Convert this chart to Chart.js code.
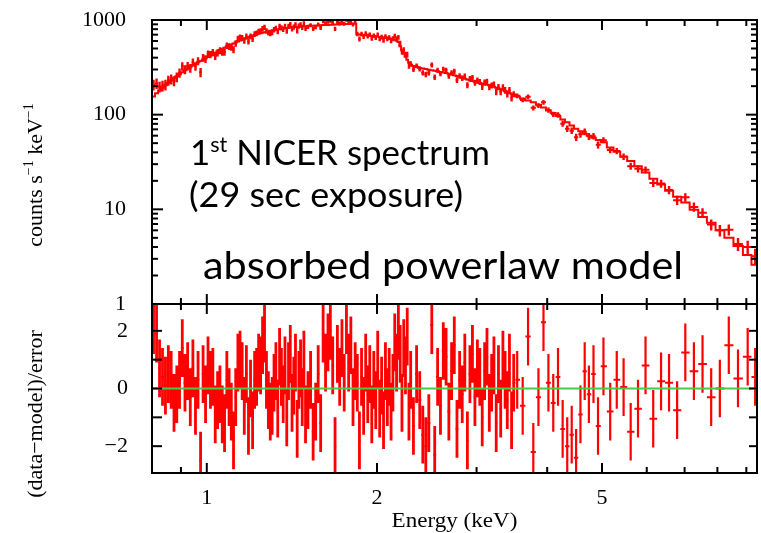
<!DOCTYPE html>
<html>
<head>
<meta charset="utf-8">
<script src="https://cdn.jsdelivr.net/npm/chart.js@4.4.1/dist/chart.umd.min.js"></script>
<style>
html,body{margin:0;padding:0;background:#ffffff;overflow:hidden;}
#box{position:relative;width:761px;height:533px;}
canvas{display:block;}
</style>
</head>
<body>
<div id="box"><canvas id="chart" width="761" height="533"></canvas></div>
<script>
// ---- data ----
const energy = [
0.805,0.815,0.825,0.835,0.845,0.855,0.865,0.875,0.885,0.895,
0.905,0.915,0.925,0.935,0.945,0.955,0.965,0.975,0.985,0.995,
1.005,1.015,1.025,1.035,1.045,1.055,1.065,1.075,1.085,1.095,
1.105,1.115,1.125,1.135,1.145,1.155,1.165,1.175,1.185,1.195,
1.205,1.215,1.225,1.235,1.245,1.255,1.265,1.275,1.285,1.295,
1.305,1.315,1.325,1.335,1.345,1.355,1.365,1.375,1.385,1.395,
1.405,1.415,1.425,1.435,1.445,1.455,1.465,1.475,1.485,1.495,
1.51,1.526,1.542,1.558,1.574,1.59,1.606,1.622,1.638,1.654,
1.67,1.686,1.702,1.718,1.734,1.75,1.766,1.782,1.798,1.814,
1.83,1.846,1.862,1.878,1.894,1.91,1.926,1.942,1.958,1.974,
1.99,2.006,2.022,2.038,2.054,2.07,2.086,2.102,2.118,2.134,
2.15,2.166,2.182,2.198,2.214,2.23,2.246,2.262,2.278,2.294,
2.32,2.35,2.38,2.41,2.44,2.47,2.50,2.53,2.56,2.59,
2.62,2.65,2.68,2.71,2.74,2.77,2.80,2.83,2.86,2.89,
2.92,2.95,2.98,3.01,3.04,3.07,3.10,3.13,3.16,3.19,
3.22,3.25,3.28,3.31,3.34,3.37,3.40,3.43,3.46,3.49,
3.54,3.62,3.70,3.78,3.86,3.94,4.02,4.10,4.18,4.26,
4.34,4.42,4.50,4.58,4.66,4.74,4.83,4.92,
5.03,5.17,5.31,5.46,5.62,5.79,5.97,6.16,6.36,6.57,
6.79,7.02,7.27,7.53,7.80,8.08,8.38,8.70,9.05,9.33];

const counts = [
207,214,197,202,207,230,237,227,249,277,
325,300,327,310,357,325,368,280,400,387,
437,433,453,417,451,474,459,460,537,525,
517,487,567,635,654,649,606,671,598,673,
632,710,725,759,765,809,838,765,738,725,
742,790,818,758,858,828,801,859,769,859,
896,809,845,892,772,865,890,839,912,812,
847,880,805,839,899,827,967,926,959,980,
929,806,952,918,966,914,1007,949,978,897,
939,713,631,712,669,722,676,699,642,683,
653,701,634,660,612,670,633,653,605,635,
678,637,655,569,464,483,432,431,333,344,
301,328,305,277,266,277,335,249,294,272,
302,295,257,277,287,232,256,243,255,205,
239,246,218,230,222,197,219,224,196,204,
209,175,196,175,195,181,166,181,151,165,
158,143,155,118,125,135,112,101,99.5,80.4,
71.1,67.8,57.7,62.2,66.1,59,59.3,48.1,
53.8,42.3,41.4,36.1,28.6,26.8,26.2,19.0,18.7,16.0,
12.5,13.4,10.6,9.2,6.9,6.0,6.1,4.3,4.0,3.2];

const model = [
156,168,180,192,204,216,229,242,255,268,
281,294,307,320,333,346,358,370,382,394,
407,422,437,452,467,482,496,510,524,538,
552,566,580,594,608,621,634,647,660,673,
685,695,705,715,725,734,742,750,758,766,
773,780,787,794,801,807,812,817,822,827,
832,836,840,843,846,849,852,855,858,861,
864,867,870,874,877,880,883,886,888,891,
893,896,898,900,903,905,907,908,910,911,
912,705,701,697,692,688,684,680,676,672,
668,664,660,656,652,648,644,639,634,628,
620,605,585,528,480,440,408,380,355,336,
326,318,312,307,303,299,295,291,287,283,
279,275,271,266,261,256,251,246,240,235,
231,227,223,219,216,213,210,207,204,201,
197,193,189,185,181,177,172,169,166,162,
156,148,141,135,127,119,111,104,97,89,
83,77,71,67,63,60,57,54,
51,45,40.5,36,32.5,28.5,24.5,21,18.3,15.7,
13.6,11.8,9.9,8.3,7.2,6.0,5.0,4.1,3.3,2.6];

const resid = [
2.2,1.9,0.7,0.4,0.1,0.5,0.3,-0.5,-0.2,0.3,
1.4,0.2,0.6,-0.3,0.7,-0.6,0.3,-2.5,0.5,-0.2,
0.8,0.3,0.4,-0.9,-0.4,-0.2,-0.9,-1.2,0.3,-0.3,
-0.8,-1.8,-0.3,0.9,1.0,0.6,-0.6,0.5,-1.3,0.0,
-1.1,0.3,0.4,0.9,0.8,1.5,1.9,0.3,-0.4,-0.8,
-0.6,0.2,0.6,-0.7,1.1,0.4,-0.2,0.8,-1.0,0.6,
1.2,-0.5,0.1,0.9,-1.4,0.3,0.7,-0.3,1.0,-0.9,
-0.4,0.3,-1.5,-0.8,0.5,-1.2,1.9,0.9,1.6,2.0,
0.8,-2.0,1.2,0.4,1.4,0.2,2.2,0.9,1.5,-0.3,
0.6,0.2,-1.8,0.4,-0.6,0.9,-0.2,0.5,-0.9,0.3,
-0.4,1.0,-0.7,0.1,-1.1,0.6,-0.3,0.4,-0.8,0.2,
1.6,0.9,2.0,1.2,-0.5,1.4,0.8,1.8,-0.8,0.3,
-1.3,0.5,-0.4,-1.6,-2.0,-1.2,2.2,-2.3,0.4,-0.6,
1.3,1.1,-0.8,0.6,1.5,-1.4,0.3,-0.2,0.9,-1.8,
0.5,1.2,-0.3,0.7,0.4,-1.0,0.6,1.1,-0.5,0.2,
0.8,-1.2,0.5,-0.7,1.0,0.3,-0.4,0.9,-1.1,0.2,
0.3,-0.6,1.8,-2.2,-0.3,2.3,0.2,-0.5,0.4,-1.4,
-2.0,-1.6,-2.4,-0.9,0.6,-0.2,0.5,-1.3,
0.77,-0.8,0.3,0.05,-1.5,-0.7,0.8,-1.05,0.25,0.2,
-0.75,1.25,0.6,0.85,-0.3,0.0,1.5,0.35,1.1,0.4];

const EXPOSURE = 29;                 // seconds, from the annotation
const DENSE_LIMIT = 3.5;             // keV: below this the binning is very fine
const xLabelTicks = [1, 2, 5];
const xMinorTicks = [0.9, 3, 4, 6, 7, 8, 9];
const yTopLabelTicks = [1, 10, 100, 1000];
const yTopMinorTicks = [2,3,4,5,6,7,8,9,20,30,40,50,60,70,80,90,200,300,400,500,600,700,800,900];
const yResLabelTicks = [-2, 0, 2];
const yResAllTicks = [-2, -1, 0, 1, 2];
const annotationLines = ['1', 'st', ' NICER spectrum', '(29 sec exposure)', 'absorbed powerlaw model'];

// ---- build datasets ----
const N = energy.length;
const lo = [], hi = [];
for (let i = 0; i < N; i++) {
  lo.push(i === 0 ? energy[0] - (energy[1] - energy[0]) / 2 : (energy[i - 1] + energy[i]) / 2);
  hi.push(i === N - 1 ? energy[N - 1] + (energy[N - 1] - energy[N - 2]) / 2 : (energy[i] + energy[i + 1]) / 2);
}
const countErr = counts.map((c, i) => {
  const w = (hi[i] - lo[i]) * EXPOSURE;
  return Math.sqrt(c * w) / w;
});

const topYbars = [], topXbars = [], modelStep = [], resYdense = [], resYsparse = [], resXbars = [];
for (let i = 0; i < N; i++) {
  topYbars.push({x: energy[i], y: counts[i] - countErr[i]}, {x: energy[i], y: counts[i] + countErr[i]}, {x: energy[i], y: null});
  topXbars.push({x: lo[i], y: counts[i]}, {x: hi[i], y: counts[i]}, {x: hi[i], y: null});
  modelStep.push({x: lo[i], y: model[i]}, {x: hi[i], y: model[i]});
  const target = energy[i] < DENSE_LIMIT ? resYdense : resYsparse;
  target.push({x: energy[i], y: resid[i] - 1}, {x: energy[i], y: resid[i] + 1}, {x: energy[i], y: null});
  resXbars.push({x: lo[i], y: resid[i]}, {x: hi[i], y: resid[i]}, {x: hi[i], y: null});
}

const RED = '#ff0000';
const GREEN = '#44cc44';
const SERIF = "'Liberation Serif', 'Times New Roman', serif";
const SANS = "Lato, 'Open Sans', sans-serif";

function lineDs(label, data, axis, color, width) {
  return {label, data, yAxisID: axis, borderColor: color, borderWidth: width,
    pointRadius: 0, fill: false, spanGaps: false, tension: 0};
}

// clip each dataset to its own panel
const panelClip = {
  id: 'panelClip',
  beforeDatasetDraw(chart, args) {
    const meta = args.meta;
    const ys = chart.scales[meta.yAxisID];
    const xs = chart.scales.x;
    const ctx = chart.ctx;
    ctx.save();
    ctx.beginPath();
    ctx.rect(xs.left, ys.top, xs.right - xs.left, ys.bottom - ys.top);
    ctx.clip();
  },
  afterDatasetDraw(chart) { chart.ctx.restore(); }
};

const frame = {
  id: 'frame',
  afterDatasetsDraw(chart) {
    const ctx = chart.ctx;
    const xs = chart.scales.x, yt = chart.scales.yt, yr = chart.scales.yr;
    const L = xs.left, R = xs.right;
    ctx.save();
    ctx.strokeStyle = '#000';
    ctx.lineWidth = 2;
    ctx.lineCap = 'butt';
    function seg(x1, y1, x2, y2) { ctx.beginPath(); ctx.moveTo(x1, y1); ctx.lineTo(x2, y2); ctx.stroke(); }
    [yt, yr].forEach(s => {
      ctx.strokeRect(L, s.top, R - L, s.bottom - s.top);
      xLabelTicks.forEach(v => { const p = xs.getPixelForValue(v); seg(p, s.top, p, s.top + 10); seg(p, s.bottom, p, s.bottom - 10); });
      xMinorTicks.forEach(v => { const p = xs.getPixelForValue(v); seg(p, s.top, p, s.top + 6); seg(p, s.bottom, p, s.bottom - 6); });
    });
    yTopLabelTicks.forEach(v => { const p = yt.getPixelForValue(v); seg(L, p, L + 11, p); seg(R, p, R - 11, p); });
    yTopMinorTicks.forEach(v => { const p = yt.getPixelForValue(v); seg(L, p, L + 6, p); seg(R, p, R - 6, p); });
    yResAllTicks.forEach(v => { const p = yr.getPixelForValue(v); seg(L, p, L + 10, p); seg(R, p, R - 8, p); });
    ctx.restore();
  }
};

function drawParts(ctx, parts, x, y, align, sx) {
  sx = sx || 1;
  let total = 0;
  parts.forEach(p => { ctx.font = p.font; p.w = ctx.measureText(p.text).width; total += p.w; });
  ctx.save();
  ctx.translate(x, y);
  ctx.scale(sx, 1);
  let cx = align === 'center' ? -total / 2 : 0;
  parts.forEach(p => { ctx.font = p.font; ctx.fillText(p.text, cx, (p.dy || 0)); cx += p.w; });
  ctx.restore();
  return total;
}
function measureParts(ctx, parts) {
  let t = 0;
  parts.forEach(p => { ctx.font = p.font; t += ctx.measureText(p.text).width; });
  return t;
}

const texts = {
  id: 'texts',
  afterDraw(chart) {
    const ctx = chart.ctx;
    ctx.save();
    ctx.fillStyle = '#000';
    ctx.textBaseline = 'alphabetic';
    ctx.textAlign = 'left';
    // axis titles
    const f = '22px ' + SERIF, fs = '14px ' + SERIF;
    ctx.save();
    ctx.translate(42, 175);
    ctx.rotate(-Math.PI / 2);
    drawParts(ctx, [{text: 'counts s', font: f}, {text: '\u22121', font: fs, dy: -9},
      {text: ' keV', font: f}, {text: '\u22121', font: fs, dy: -9}], 0, 0, 'center');
    ctx.restore();
    ctx.save();
    ctx.translate(42, 414);
    ctx.rotate(-Math.PI / 2);
    drawParts(ctx, [{text: '(data\u2212model)/error', font: f}], 0, 0, 'center');
    ctx.restore();
    drawParts(ctx, [{text: 'Energy (keV)', font: f}], (chart.scales.x.left + chart.scales.x.right) / 2, 527, 'center', 1.05);
    // annotation (Calibri-like): size by cap height, width by target extent
    const CAP = 0.7165;
    const s1 = 25 / CAP, s3 = 28 / CAP;
    const fb1 = s1.toFixed(1) + 'px ' + SANS, fsup = (s1 * 0.62).toFixed(1) + 'px ' + SANS;
    const fb3 = s3.toFixed(1) + 'px ' + SANS;
    const l1 = [{text: annotationLines[0], font: fb1}, {text: annotationLines[1], font: fsup, dy: -s1 * 0.36},
      {text: annotationLines[2], font: fb1}];
    const l2 = [{text: annotationLines[3], font: fb1}];
    const l3 = [{text: annotationLines[4], font: fb3}];
    drawParts(ctx, l1, 190, 165, 'left', 300 / measureParts(ctx, l1));
    drawParts(ctx, l2, 189, 207, 'left', 274 / measureParts(ctx, l2));
    drawParts(ctx, l3, 203, 279, 'left', 480 / measureParts(ctx, l3));
    ctx.restore();
  }
};

const tickFont = {family: SERIF, size: 22};
function fixY(s) { s.width = 152; s.paddingTop = 0; s.paddingBottom = 0; }

new Chart(document.getElementById('chart'), {
  type: 'line',
  data: {
    datasets: [
      lineDs('zero', [{x: 0.8, y: 0}, {x: 9.4, y: 0}], 'yr', GREEN, 2),
      lineDs('residual error (fine bins)', resYdense, 'yr', RED, 2.8),
      lineDs('residual error (wide bins)', resYsparse, 'yr', RED, 2.2),
      lineDs('residual bins', resXbars, 'yr', RED, 2),
      lineDs('model', modelStep, 'yt', RED, 2),
      lineDs('data error', topYbars, 'yt', RED, 2.4),
      lineDs('data bins', topXbars, 'yt', RED, 2)
    ]
  },
  options: {
    responsive: false,
    animation: false,
    devicePixelRatio: 1,
    layout: {padding: {left: 0, right: 4, top: 20, bottom: 0}},
    plugins: {legend: {display: false}, tooltip: {enabled: false}},
    scales: {
      x: {
        type: 'logarithmic', min: 0.8, max: 9.4,
        grid: {display: false}, border: {display: false},
        afterBuildTicks: s => { s.ticks = xLabelTicks.map(v => ({value: v})); },
        afterFit: s => { s.height = 60; s.paddingLeft = 0; s.paddingRight = 0; },
        ticks: {callback: v => String(v), font: tickFont, color: '#000', padding: 4, maxRotation: 0, autoSkip: false}
      },
      yr: {
        type: 'linear', position: 'left', stack: 'panels', stackWeight: 169,
        min: -2.93, max: 2.93,
        grid: {display: false}, border: {display: false},
        afterBuildTicks: s => { s.ticks = yResLabelTicks.map(v => ({value: v})); },
        afterFit: fixY,
        ticks: {callback: v => (v < 0 ? '\u2212' + Math.abs(v) : String(v)), font: tickFont, color: '#000', padding: 16, autoSkip: false}
      },
      yt: {
        type: 'logarithmic', position: 'left', stack: 'panels', stackWeight: 284,
        min: 1, max: 1000,
        grid: {display: false}, border: {display: false},
        afterBuildTicks: s => { s.ticks = yTopLabelTicks.map(v => ({value: v})); },
        afterFit: fixY,
        ticks: {callback: v => String(v), font: tickFont, color: '#000', padding: 18, autoSkip: false}
      }
    }
  },
  plugins: [panelClip, frame, texts]
});
</script>
</body>
</html>
